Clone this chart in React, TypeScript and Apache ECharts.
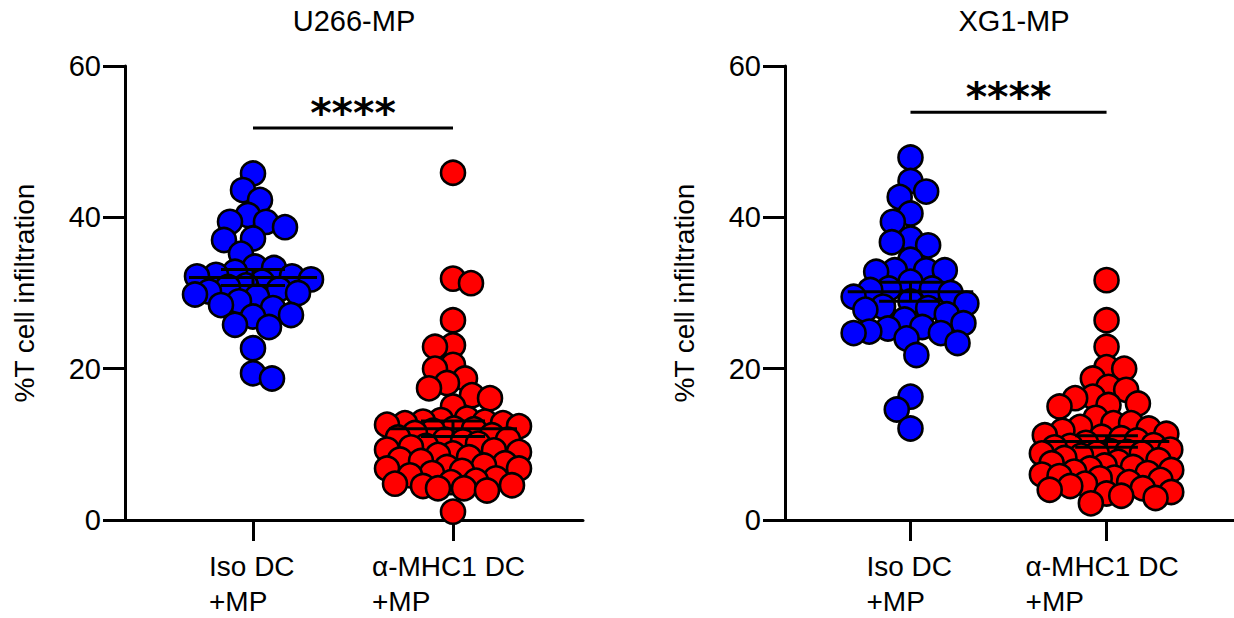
import React, { useEffect, useRef } from "react";
import * as echarts from "echarts";

// Panel titles, group names and axis text
const panelTitles = ["U266-MP", "XG1-MP"];
const groupLabels = ["Iso DC\n+MP", "α-MHC1 DC\n+MP"];
const yTitle = "%T cell infiltration";
const yTicks = [0, 20, 40, 60];
const sigLabel = "****";

// %T cell infiltration per sample
const u266Iso = [
  45.8, 43.6, 42.3, 40.3, 39.4, 39.4, 38.7, 37.2, 37.0, 35.2, 33.5, 33.3, 32.8, 32.4, 32.2,
  32.2, 31.8, 31.5, 31.0, 30.8, 30.5, 30.2, 30.0, 29.8, 29.5, 28.9, 28.4, 28.0, 27.1, 26.9,
  25.8, 25.5, 22.7, 19.4, 18.7,
];
const u266Mhc = [
  45.9, 31.9, 31.3, 26.4, 23.1, 22.9, 20.5, 20.0, 18.7, 18.1, 17.4, 16.5, 16.1, 15.0, 13.4,
  13.2, 13.0, 13.0, 12.8, 12.8, 12.6, 12.4, 12.1, 12.0, 11.8, 11.5, 11.2, 10.9, 10.6, 10.6,
  10.4, 10.1, 9.8, 9.6, 9.3, 9.2, 9.0, 8.8, 8.6, 8.3, 8.0, 7.8, 7.5, 7.2, 7.0,
  6.8, 6.8, 6.5, 6.2, 5.9, 5.5, 5.2, 5.0, 4.8, 4.6, 4.5, 4.2, 4.2, 3.9, 1.1,
];
const xg1Iso = [
  47.9, 44.8, 43.4, 42.7, 40.5, 39.4, 37.2, 36.7, 36.3, 34.4, 33.0, 33.0, 33.0, 32.8, 31.5,
  30.6, 30.6, 30.4, 30.0, 29.5, 28.9, 28.6, 28.2, 28.0, 27.8, 27.2, 26.5, 26.0, 25.5, 25.3,
  24.9, 24.7, 24.7, 24.0, 23.4, 21.8, 16.3, 14.6, 12.1,
];
const xg1Mhc = [
  31.7, 26.4, 22.9, 20.2, 20.0, 18.7, 17.6, 17.2, 16.3, 16.1, 15.4, 15.2, 15.0, 13.5, 12.8,
  12.8, 12.3, 12.1, 11.8, 11.4, 11.2, 11.0, 10.8, 10.5, 10.2, 9.9, 9.8, 9.6, 9.3, 9.1,
  9.0, 8.8, 8.8, 8.8, 8.5, 8.2, 7.9, 7.7, 7.5, 7.2, 7.0, 6.8, 6.6, 6.4, 6.2,
  6.0, 5.8, 5.6, 5.5, 5.3, 5.0, 4.8, 4.5, 4.2, 4.0, 3.7, 3.5, 3.2, 2.9, 2.2,
];
// height of the significance bracket in each panel
const sigBarY = [51.8, 53.9];

const FONT = "'Liberation Sans', Arial, sans-serif";
const X_MIN = 0.36;
const X_MAX = 2.65;
const GRID_W = 458;
const GRID_H = 454;
const Y_MAX = 60;
const PX_PER_X = GRID_W / (X_MAX - X_MIN);
const PX_PER_Y = GRID_H / Y_MAX;
const DOT = 24;

// Beeswarm: place each dot as close to the group centre as spacing allows
function swarm(values: number[], center: number, spacing: number, maxHalf: number) {
  const placed: { x: number; y: number }[] = [];
  const out: number[][] = [];
  values.forEach((v, i) => {
    const y = v * PX_PER_Y;
    let best = 0;
    let bestScore = -1;
    let found = false;
    const flip = i % 2 === 0 ? 1 : -1;
    for (let step = 0; step <= maxHalf && !found; step++) {
      const cands = step === 0 ? [0] : [step * flip, -step * flip];
      for (const x of cands) {
        let minD = Infinity;
        for (const p of placed) {
          const dy = p.y - y;
          if (Math.abs(dy) >= spacing) continue;
          const dx = p.x - x;
          minD = Math.min(minD, Math.sqrt(dx * dx + dy * dy));
        }
        if (minD >= spacing) {
          best = x;
          found = true;
          break;
        }
        if (minD > bestScore + 0.5) {
          bestScore = minD;
          best = x;
        }
      }
    }
    placed.push({ x: best, y });
    out.push([center + best / PX_PER_X, v]);
  });
  return out;
}

function meanSem(values: number[]) {
  const n = values.length;
  const m = values.reduce((a, b) => a + b, 0) / n;
  const sd = Math.sqrt(values.reduce((a, b) => a + (b - m) * (b - m), 0) / (n - 1));
  return [m, sd / Math.sqrt(n)];
}

export default function App() {
  const ref = useRef<HTMLDivElement>(null);

  useEffect(() => {
    if (!ref.current) return;
    const chart = echarts.init(ref.current, undefined, { renderer: "svg" });

    const panels = [
      { iso: u266Iso, mhc: u266Mhc, left: 125 },
      { iso: xg1Iso, mhc: xg1Mhc, left: 785 },
    ];

    const grids = panels.map((p) => ({ left: p.left, top: 66, width: GRID_W, height: GRID_H }));

    const xAxes = panels.map((_, i) => ({
      type: "value",
      gridIndex: i,
      min: X_MIN,
      max: X_MAX,
      splitLine: { show: false },
      axisLine: { show: true, lineStyle: { color: "#000", width: 3 } },
      axisTick: {
        show: true,
        length: 21,
        customValues: [1, 2],
        lineStyle: { color: "#000", width: 3 },
      },
      axisLabel: {
        show: true,
        customValues: [1, 2],
        margin: 29,
        color: "#000",
        fontFamily: FONT,
        fontSize: 28,
        formatter: (v: number) => {
          const lines = groupLabels[Math.round(v) - 1].split("\n");
          const key = Math.round(v) === 1 ? "a" : "b";
          return lines.map((l) => `{${key}|${l}}`).join("\n");
        },
        rich: {
          a: { width: 88, align: "left", fontFamily: FONT, fontSize: 28, lineHeight: 35, color: "#000" },
          b: { width: 162, align: "left", fontFamily: FONT, fontSize: 28, lineHeight: 35, color: "#000" },
        },
      },
    }));

    const yAxes = panels.map((_, i) => ({
      type: "value",
      gridIndex: i,
      min: yTicks[0],
      max: yTicks[yTicks.length - 1],
      interval: yTicks[1] - yTicks[0],
      name: yTitle,
      nameLocation: "middle",
      nameGap: 87,
      nameTextStyle: { fontFamily: FONT, fontSize: 28, color: "#000" },
      splitLine: { show: false },
      axisLine: { show: true, lineStyle: { color: "#000", width: 3 } },
      axisTick: { show: true, length: 22, lineStyle: { color: "#000", width: 3 } },
      axisLabel: { margin: 24, color: "#000", fontFamily: FONT, fontSize: 29 },
    }));

    const series: any[] = [];
    panels.forEach((p, i) => {
      const groups = [
        { vals: p.iso, color: "#0000ff", center: 1, half: 58, spacing: 19 },
        { vals: p.mhc, color: "#ff0000", center: 2, half: 66, spacing: 18 },
      ];
      groups.forEach((g) => {
        series.push({
          type: "scatter",
          xAxisIndex: i,
          yAxisIndex: i,
          symbol: "circle",
          symbolSize: DOT,
          itemStyle: { color: g.color, borderColor: "#000", borderWidth: 2.6, opacity: 1 },
          data: swarm(g.vals, g.center, g.spacing, g.half),
          z: 2,
        });
      });
      // mean with SEM whiskers
      series.push({
        type: "custom",
        xAxisIndex: i,
        yAxisIndex: i,
        z: 5,
        encode: { x: 0, y: 1 },
        data: groups.map((g) => [g.center, ...meanSem(g.vals)]),
        renderItem: (_params: any, api: any) => {
          const x = api.value(0);
          const m = api.value(1);
          const s = api.value(2);
          const seg = (x1: number, y1: number, x2: number, y2: number) => {
            const a = api.coord([x1, y1]);
            const b = api.coord([x2, y2]);
            return {
              type: "line",
              shape: { x1: a[0], y1: a[1], x2: b[0], y2: b[1] },
              style: { stroke: "#000", lineWidth: 3 },
            };
          };
          return {
            type: "group",
            children: [
              seg(x - 0.32, m, x + 0.32, m),
              seg(x - 0.16, m + s, x + 0.16, m + s),
              seg(x - 0.16, m - s, x + 0.16, m - s),
              seg(x, m - s, x, m + s),
            ],
          };
        },
      });
      // significance bracket
      series.push({
        type: "line",
        xAxisIndex: i,
        yAxisIndex: i,
        symbol: "none",
        lineStyle: { color: "#000", width: 3 },
        data: [
          [1, sigBarY[i]],
          [2, sigBarY[i]],
        ],
        z: 3,
      });
      series.push({
        type: "scatter",
        xAxisIndex: i,
        yAxisIndex: i,
        symbol: "circle",
        symbolSize: 0,
        itemStyle: { color: "#000", opacity: 1 },
        data: [[1.5, sigBarY[i]]],
        label: {
          show: true,
          position: "inside",
          offset: [0, -15],
          formatter: sigLabel,
          fontFamily: "'DejaVu Sans', sans-serif",
          fontWeight: "bold",
          fontSize: 41,
          color: "#000",
          textBorderWidth: 0,
          opacity: 1,
        },
        z: 3,
      });
    });

    chart.setOption({
      animation: false,
      backgroundColor: "#fff",
      title: panels.map((p, i) => ({
        text: panelTitles[i],
        left: p.left + GRID_W / 2,
        top: 6,
        textAlign: "center",
        padding: 0,
        textStyle: { fontFamily: FONT, fontSize: 29, fontWeight: "normal", color: "#000" },
      })),
      grid: grids,
      xAxis: xAxes,
      yAxis: yAxes,
      series,
    });

    return () => chart.dispose();
  }, []);

  return (
    <div
      ref={ref}
      style={{ position: "fixed", left: 0, top: 0, width: 1234, height: 618, background: "#fff" }}
    />
  );
}
